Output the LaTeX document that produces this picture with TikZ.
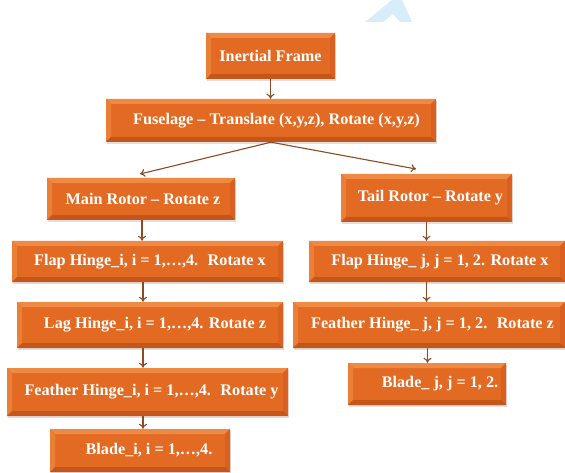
\documentclass[tikz,border=0pt]{standalone}
\usepackage{fontspec}
\setmainfont{Liberation Serif}
\usetikzlibrary{arrows.meta,shadows}
\definecolor{orM}{HTML}{E36A22}
\definecolor{orT}{HTML}{EF8A45}
\definecolor{orL}{HTML}{EC7F38}
\definecolor{orR}{HTML}{D96020}
\definecolor{orB}{HTML}{C4561A}
\definecolor{arr}{HTML}{8E4A25}
\definecolor{wmark}{HTML}{D8EDFA}
\newcommand{\rs}[1]{\hspace*{#1pt}}
\tikzset{
  bevbox/.style={rectangle, fill=orM, text=white, inner sep=0pt,
    font=\fontsize{16.2}{19}\selectfont\bfseries,
    drop shadow={opacity=0.25, shadow xshift=1pt, shadow yshift=-2pt},
    path picture={
      \coordinate (nw) at (path picture bounding box.north west);
      \coordinate (ne) at (path picture bounding box.north east);
      \coordinate (sw) at (path picture bounding box.south west);
      \coordinate (se) at (path picture bounding box.south east);
      \fill[orT] (nw) -- (ne) -- ([shift={(-5pt,-5pt)}]ne) -- ([shift={(5pt,-5pt)}]nw) -- cycle;
      \fill[orL] (nw) -- (sw) -- ([shift={(5pt,5pt)}]sw) -- ([shift={(5pt,-5pt)}]nw) -- cycle;
      \fill[orR] (ne) -- (se) -- ([shift={(-5pt,5pt)}]se) -- ([shift={(-5pt,-5pt)}]ne) -- cycle;
      \fill[orB] (sw) -- (se) -- ([shift={(-5pt,5pt)}]se) -- ([shift={(5pt,5pt)}]sw) -- cycle;
    }},
  link/.style={draw=arr, line width=1.1pt, -{To[length=5pt,width=8pt]}}
}
\begin{document}
\begin{tikzpicture}[x=1pt,y=-1pt]
\useasboundingbox[fill=white] (0,0) rectangle (565,473);
\fill[wmark] (365,22) -- (392,0) -- (402,0) -- (412,22) -- (400,22) -- (393,14) -- (383,22) -- cycle;

\node[bevbox, minimum width=129pt, minimum height=46pt] (inert) at (270.5,56) {Inertial Frame};
\node[bevbox, minimum width=330pt, minimum height=43pt] (fus) at (271,120.5) {\rs{11}Fuselage – Translate (x,y,z), Rotate (x,y,z)};
\node[bevbox, minimum width=188pt, minimum height=42pt] (main) at (141,199) {\rs{4}Main Rotor – Rotate z};
\node[bevbox, minimum width=171pt, minimum height=48pt] (tail) at (426.5,198) {\rs{8}Tail Rotor – Rotate y};
\node[bevbox, minimum width=271pt, minimum height=41pt] (flapi) at (147.5,261.5) {\rs{5}Flap Hinge\_i, i = 1,…,4.~ Rotate x};
\node[bevbox, minimum width=266pt, minimum height=46pt] (lagi) at (150,325) {\rs{10}Lag Hinge\_i, i = 1,…,4. Rotate z};
\node[bevbox, minimum width=281pt, minimum height=48pt] (feati) at (147.5,392) {\rs{8}Feather Hinge\_i, i = 1,…,4.~ Rotate y};
\node[bevbox, minimum width=180pt, minimum height=43pt] (bladei) at (140,450.5) {\rs{18}Blade\_i, i = 1,…,4.};
\node[bevbox, minimum width=256pt, minimum height=41pt] (flapj) at (437,261.5) {\rs{6}Flap Hinge\_ j, j = 1, 2. Rotate x};
\node[bevbox, minimum width=272pt, minimum height=46pt] (featj) at (429,325) {\rs{7}Feather Hinge\_ j, j = 1, 2.~ Rotate z};
\node[bevbox, minimum width=158pt, minimum height=42pt] (bladej) at (427,384) {\rs{26}Blade\_ j, j = 1, 2.};

\coordinate (ml) at (140,174);
\coordinate (tr) at (416,169);
\draw[link] (inert.south) -- (inert.south |- fus.north);
\draw[link] (fus.south) -- (ml);
\draw[link] (fus.south) -- (tr);
\draw[link] ([xshift=1pt]main.south) -- ([xshift=1pt]main.south |- flapi.north);
\draw[link] ([xshift=2pt]main.south |- flapi.south) -- ([xshift=2pt]main.south |- lagi.north);
\draw[link] ([xshift=2pt]main.south |- lagi.south) -- ([xshift=2pt]main.south |- feati.north);
\draw[link] ([xshift=2pt]main.south |- feati.south) -- ([xshift=2pt]main.south |- bladei.north);
\draw[link] (tail.south) -- (tail.south |- flapj.north);
\draw[link] (tail.south |- flapj.south) -- (tail.south |- featj.north);
\draw[link] ([xshift=1pt]tail.south |- featj.south) -- ([xshift=1pt]tail.south |- bladej.north);
\end{tikzpicture}
\end{document}
